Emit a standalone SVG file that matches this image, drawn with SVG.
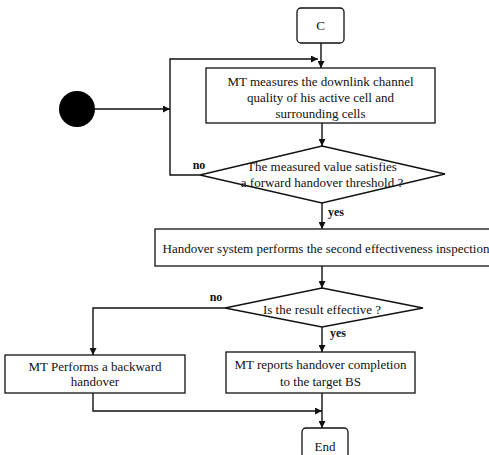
<svg xmlns="http://www.w3.org/2000/svg" width="489" height="455" viewBox="0 0 489 455">
<style>
.b{fill:#fff;stroke:#111;stroke-width:1.3}
.t{font-family:"Liberation Serif","Times New Roman",serif;font-size:13px;fill:#111;text-anchor:middle}
.l{font-family:"Liberation Serif","Times New Roman",serif;font-size:12px;font-weight:bold;fill:#111}
.c{fill:none;stroke:#111;stroke-width:1.4}
</style>
<defs>
<marker id="a" viewBox="0 0 10 10" refX="10" refY="5" markerWidth="7" markerHeight="7" markerUnits="userSpaceOnUse" orient="auto">
<path d="M0,0L10,5L0,10z" fill="#111"/>
</marker>
</defs>
<rect width="489" height="455" fill="#fff"/>
<g id="connectors">
<path class="c" d="M321,43V68" marker-end="url(#a)"/>
<path class="c" d="M200,175H170V59H318" marker-end="url(#a)"/>
<path class="c" d="M95,109H170" marker-end="url(#a)"/>
<path class="c" d="M322,123V146" marker-end="url(#a)"/>
<path class="c" d="M322,203V229" marker-end="url(#a)"/>
<path class="c" d="M322,266V288" marker-end="url(#a)"/>
<path class="c" d="M225,308H93V355" marker-end="url(#a)"/>
<path class="c" d="M322,327V352" marker-end="url(#a)"/>
<path class="c" d="M93,393V411H322" marker-end="url(#a)"/>
<path class="c" d="M322,393V428" marker-end="url(#a)"/>
<text class="l" x="199" y="169" text-anchor="middle">no</text>
<text class="l" x="328" y="216">yes</text>
<text class="l" x="216" y="301" text-anchor="middle">no</text>
<text class="l" x="330" y="337">yes</text>
</g>
<g id="start"><circle cx="77" cy="109" r="18" fill="#000"/></g>
<g id="c"><rect class="b" x="297" y="8" width="47" height="35" rx="4"/><text class="t" x="320.5" y="30">C</text></g>
<g id="measure"><rect class="b" x="206" y="68" width="229" height="55"/>
<text class="t" x="320.5" y="86">MT measures the downlink channel</text>
<text class="t" x="320.5" y="102">quality of his active cell and</text>
<text class="t" x="320.5" y="118">surrounding cells</text></g>
<g id="decision1"><path class="b" d="M322,146L445,174L322,203L200,175Z"/>
<text class="t" x="322" y="171">The measured  value satisfies</text>
<text class="t" x="322" y="187">a forward handover threshold ?</text></g>
<g id="inspection"><rect class="b" x="155" y="229" width="340" height="37"/>
<text class="t" x="326" y="253">Handover system performs the second effectiveness inspection</text></g>
<g id="decision2"><path class="b" d="M322,288L423,308L322,327L225,308Z"/>
<text class="t" x="322" y="314">Is the result effective ?</text></g>
<g id="backward"><rect class="b" x="5" y="355" width="180" height="38"/>
<text class="t" x="95" y="371">MT Performs a backward</text>
<text class="t" x="95" y="386">handover</text></g>
<g id="report"><rect class="b" x="226" y="352" width="189" height="41"/>
<text class="t" x="320.5" y="369">MT reports handover completion</text>
<text class="t" x="320.5" y="386">to the target BS</text></g>
<g id="end"><rect class="b" x="302" y="428" width="46" height="40" rx="4"/>
<text class="t" x="325" y="451">End</text></g>
</svg>
